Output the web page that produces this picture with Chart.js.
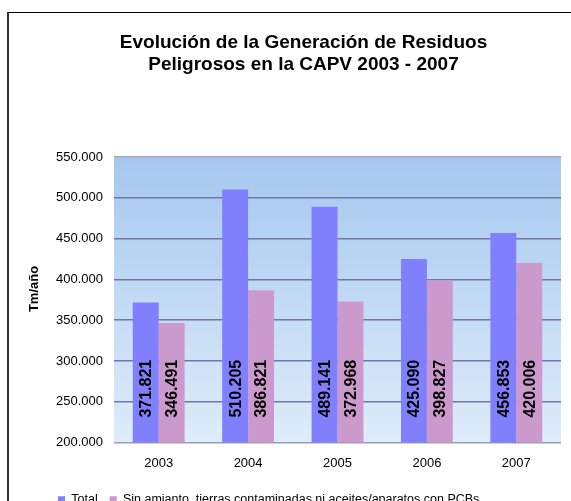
<!DOCTYPE html>
<html>
<head>
<meta charset="utf-8">
<title>Residuos Peligrosos CAPV</title>
<script src="https://cdn.jsdelivr.net/npm/chart.js@4.4.1/dist/chart.umd.min.js"></script>
<style>
  html, body { margin: 0; padding: 0; background: #fff; overflow: hidden; }
  #frame {
    position: absolute; left: 7px; top: 12px;
    width: 620px; height: 560px;
    border-left: 2px solid #333; border-top: 1px solid #000;
  }
  #box { position: absolute; left: 9px; top: 13px; width: 588px; height: 520px; }
</style>
</head>
<body>
<div id="frame"></div>
<div id="box"><canvas id="myChart"></canvas></div>
<script>
// datos
const years = ['2003', '2004', '2005', '2006', '2007'];
const total = [371821, 510205, 489141, 425090, 456853];
const sinAmianto = [346491, 386821, 372968, 398827, 420006];
const seriesNames = ['Total', 'Sin amianto, tierras contaminadas ni aceites/aparatos con PCBs'];
const titleLines = ['Evolución de la Generación de Residuos', 'Peligrosos en la CAPV 2003 - 2007'];
const yMin = 200000, yMax = 550000, yStep = 50000;

const FONT = "Arial, 'Liberation Sans', sans-serif";

/**
 * 371821 -> "371.821"
 */
function fmt(v) {
  return String(v).replace(/\B(?=(\d{3})+(?!\d))/g, '.');
}

// fondo degradado del area de trazado
const bgPlugin = {
  id: 'bgPlugin',
  beforeDraw(chart) {
    const {ctx, chartArea: a} = chart;
    const g = ctx.createLinearGradient(0, a.top, 0, a.bottom);
    g.addColorStop(0, '#A5C8EF');
    g.addColorStop(1, '#DFECFA');
    ctx.save();
    ctx.fillStyle = g;
    ctx.fillRect(a.left, a.top, a.right - a.left, a.bottom - a.top);
    ctx.restore();
  }
};

// etiquetas verticales dentro de las barras
const labelPlugin = {
  id: 'labelPlugin',
  afterDatasetsDraw(chart) {
    const ctx = chart.ctx;
    const yPos = chart.scales.y.getPixelForValue(266000);
    ctx.save();
    ctx.font = 'bold 16px ' + FONT;
    ctx.fillStyle = '#000';
    ctx.textAlign = 'center';
    ctx.textBaseline = 'middle';
    chart.data.datasets.forEach((ds, i) => {
      chart.getDatasetMeta(i).data.forEach((bar, j) => {
        ctx.save();
        ctx.translate(bar.x, yPos);
        ctx.rotate(-Math.PI / 2);
        ctx.fillText(fmt(ds.data[j]), 0, 1);
        ctx.restore();
      });
    });
    ctx.restore();
  }
};

window.onload = () => {
  const ctx = document.getElementById('myChart').getContext('2d');
  new Chart(ctx, {
    type: 'bar',
    data: {
      labels: years,
      datasets: [{
        label: seriesNames[0],
        data: total,
        backgroundColor: '#8080FF',
        categoryPercentage: 0.58,
        barPercentage: 1.0
      }, {
        label: seriesNames[1],
        data: sinAmianto,
        backgroundColor: '#CC99CC',
        categoryPercentage: 0.58,
        barPercentage: 1.0
      }]
    },
    options: {
      responsive: true,
      maintainAspectRatio: false,
      animation: false,
      layout: { padding: { left: 37, right: 36, top: 0, bottom: 17 } },
      plugins: {
        title: {
          display: true,
          text: titleLines,
          color: '#000',
          font: { family: FONT, size: 19, weight: 'bold', lineHeight: 1.16 },
          padding: { top: 19, bottom: 81 }
        },
        legend: {
          position: 'bottom',
          align: 'start',
          labels: {
            color: '#000',
            font: { family: FONT, size: 12.5 },
            boxWidth: 7,
            boxHeight: 7,
            padding: 12
          }
        },
        tooltip: { enabled: false }
      },
      scales: {
        x: {
          grid: { display: false, drawTicks: false },
          border: { display: false },
          ticks: { color: '#000', font: { family: FONT, size: 13 }, padding: 13 },
          afterFit: (s) => { s.height = 39; }
        },
        y: {
          min: yMin,
          max: yMax,
          afterFit: (s) => { s.width = 68; },
          border: { display: false },
          grid: {
            drawTicks: false,
            lineWidth: 1.5,
            color: (c) => {
              if (c.tick && c.tick.value === yMax) return '#A3A3CC';
              if (c.tick && c.tick.value === yMin) return '#9A9ABF';
              return '#7474AA';
            }
          },
          ticks: {
            stepSize: yStep,
            padding: 11,
            color: '#000',
            font: { family: FONT, size: 13 },
            callback: (v) => fmt(v)
          },
          title: {
            display: true,
            text: '      Tm/año',
            color: '#000',
            font: { family: FONT, size: 13, weight: 'bold' },
            padding: { top: -19, bottom: 0 }
          }
        }
      }
    },
    plugins: [bgPlugin, labelPlugin]
  });
};
</script>
</body>
</html>
